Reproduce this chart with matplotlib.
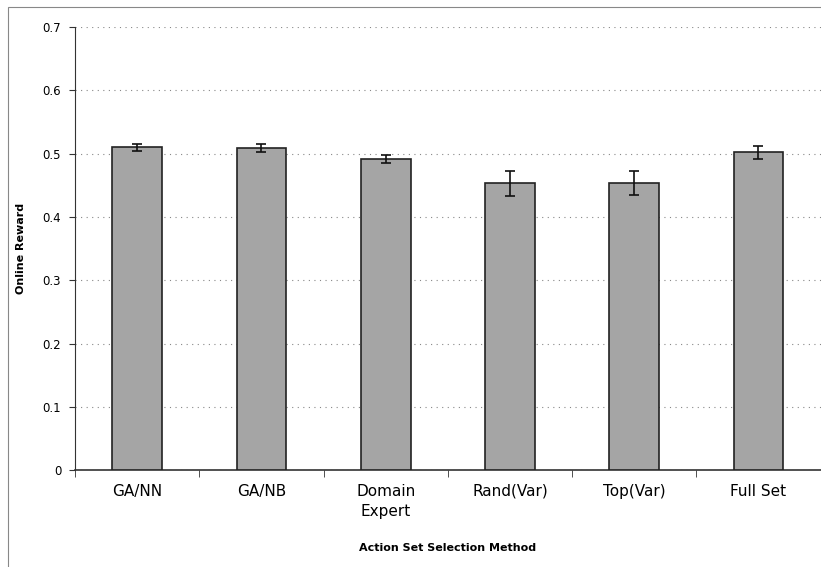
import numpy as np
import matplotlib.pyplot as plt
from matplotlib.patches import Rectangle

# Datos
metodos = ['GA/NN', 'GA/NB', 'Domain\nExpert', 'Rand(Var)', 'Top(Var)', 'Full Set']
recompensa = [0.510, 0.509, 0.492, 0.453, 0.453, 0.502]
error = [0.005, 0.006, 0.006, 0.020, 0.019, 0.010]

fig = plt.figure(figsize=(8.21, 5.67), dpi=100)
ax = fig.add_axes([0.0914, 0.171, 0.908, 0.781])

x = np.arange(len(metodos))
ax.bar(x, recompensa, width=0.4, color='#a5a5a5', edgecolor='#222222',
       linewidth=1.2, zorder=3)
ax.errorbar(x, recompensa, yerr=error, fmt='none', ecolor='#111111',
            elinewidth=1.2, capsize=3.5, capthick=1.2, zorder=4)

ax.set_xlim(-0.5, 5.5)
ax.set_ylim(0, 0.7)
ax.set_yticks(np.arange(0, 0.71, 0.1))
ax.set_yticklabels(['0', '0.1', '0.2', '0.3', '0.4', '0.5', '0.6', '0.7'], fontsize=8.5)
ax.set_xticks(x)
ax.set_xticklabels(metodos, fontsize=11, linespacing=1.45)
ax.set_xticks(np.arange(-0.5, 5.6, 1), minor=True)
ax.tick_params(axis='x', which='major', length=0, pad=10)
ax.tick_params(axis='x', which='minor', length=5, direction='out', color='#333333')
ax.tick_params(axis='y', length=4, direction='out', color='#333333', pad=6)

ax.grid(axis='y', linestyle=(0, (1, 4)), color='#888888', linewidth=0.8, zorder=0)
ax.spines['right'].set_visible(False)
ax.spines['top'].set_visible(False)
ax.spines['left'].set_color('#333333')
ax.spines['bottom'].set_color('#333333')
ax.spines['bottom'].set_linewidth(1.2)

ax.set_ylabel('Online Reward', fontsize=8, fontweight='bold', labelpad=12)
ax.set_xlabel('Action Set Selection Method', fontsize=8, fontweight='bold', labelpad=17)

# Marco exterior del grafico
fig.patches.append(Rectangle((0.010, -0.01), 1.0, 0.998, transform=fig.transFigure,
                             fill=False, edgecolor='#888888', linewidth=0.8))

plt.savefig('out.png', dpi=100)
